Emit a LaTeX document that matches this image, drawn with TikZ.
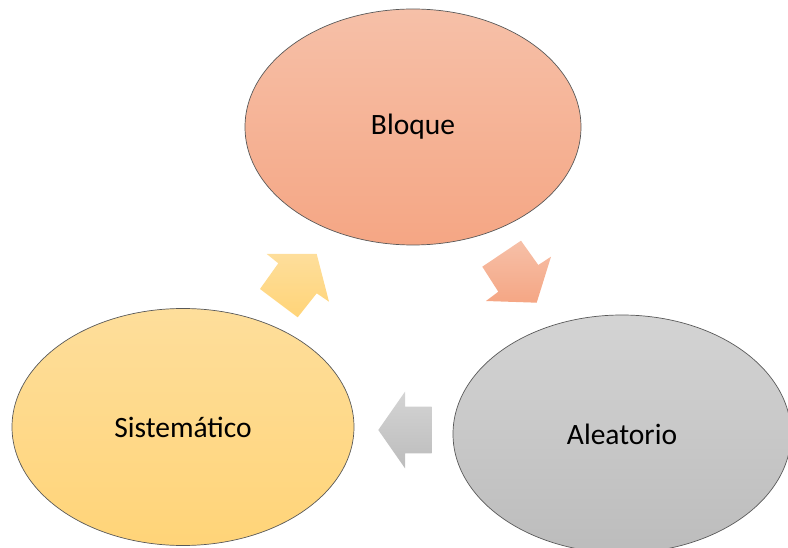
\documentclass[tikz,border=0pt]{standalone}
\usepackage{fontspec}
\setmainfont{Carlito}
\usetikzlibrary{shapes.geometric}
\definecolor{salmonTop}{RGB}{246,192,168}
\definecolor{salmonBot}{RGB}{245,166,132}
\definecolor{sandTop}{RGB}{254,222,155}
\definecolor{sandBot}{RGB}{255,212,120}
\definecolor{greyTop}{RGB}{212,212,212}
\definecolor{greyBot}{RGB}{188,188,188}
\tikzset{
  phase/.style={ellipse, draw=black!65, line width=0.7pt, inner sep=0pt,
    font=\fontsize{29.5}{35}\selectfont, text=black},
  blockarrow/.style={draw=none}
}
\begin{document}
\begin{tikzpicture}[x=1pt, y=-1pt]
  \useasboundingbox (0,0) rectangle (788,548);
  \clip (0,0) rectangle (788,548);

  % the three sampling types
  \node[phase, minimum width=336pt, minimum height=236pt,
        top color=salmonTop, bottom color=salmonBot] (bloque) at (413,127) {Bloque};
  \node[phase, minimum width=338pt, minimum height=238pt,
        top color=greyTop, bottom color=greyBot] (aleatorio) at (622,434) {Aleatorio};
  \node[phase, minimum width=342pt, minimum height=237pt,
        top color=sandTop, bottom color=sandBot] (sistematico) at (183,427) {Sistemático};

  % cycle arrows between them
  \path[blockarrow, top color=sandTop, bottom color=sandBot]
    (266.7,254) -- (316.7,254) -- (329,301.7) -- (316.7,293.3) -- (297.7,317.3)
    -- (260,289) -- (278.3,263.3) -- cycle;
  \path[blockarrow, top color=salmonTop, bottom color=salmonBot]
    (521,240.7) -- (538.3,265) -- (551,256.7) -- (536.7,302.7) -- (486,301)
    -- (498.3,291.7) -- (482.3,266.7) -- cycle;
  \path[blockarrow, top color=greyTop, bottom color=greyBot]
    (378.3,430) -- (405,391.7) -- (405,406.7) -- (431.7,406.7) -- (431.7,453.3)
    -- (405,453.3) -- (405,468.3) -- cycle;
\end{tikzpicture}
\end{document}
